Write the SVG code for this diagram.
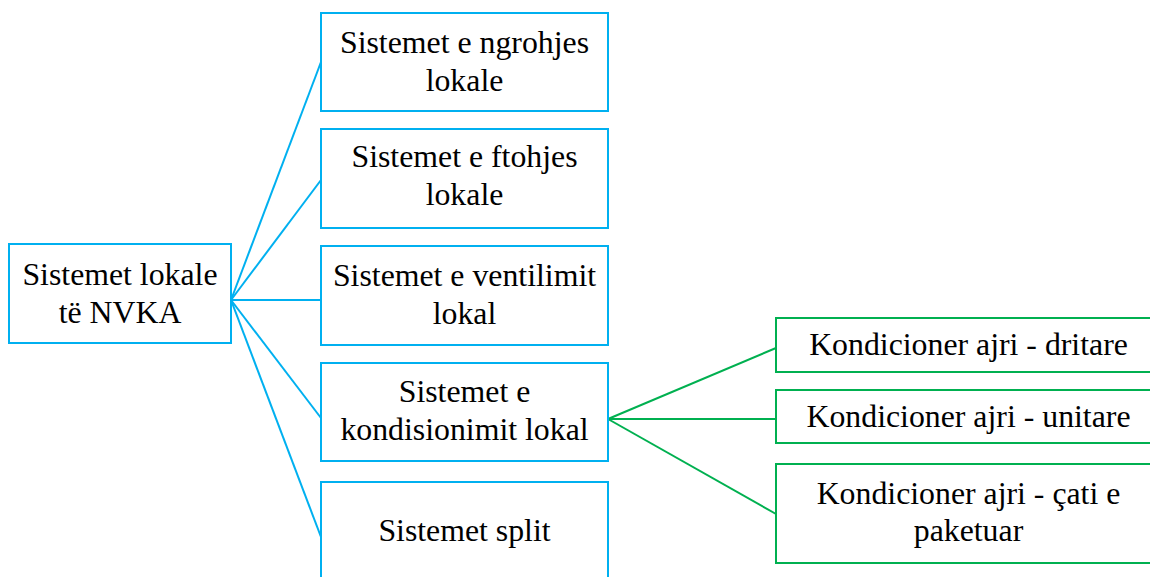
<svg xmlns="http://www.w3.org/2000/svg" width="1150" height="577" viewBox="0 0 1150 577">
<style>
.b{fill:#fff;stroke:#00B0F0;stroke-width:2}
.g{fill:#fff;stroke:#00B050;stroke-width:2}
.cb{stroke:#00B0F0;stroke-width:2;fill:none}
.cg{stroke:#00B050;stroke-width:2;fill:none}
.t{font-family:'Liberation Serif','Times New Roman',serif;font-size:31.8px;fill:#000;text-anchor:middle}
</style>
<rect width="1150" height="577" fill="#fff"/>
<g id="connectors">
<line class="cb" x1="231" y1="300" x2="321" y2="62"/>
<line class="cb" x1="231" y1="300" x2="321" y2="180"/>
<line class="cb" x1="231" y1="300" x2="321" y2="300"/>
<line class="cb" x1="231" y1="300" x2="321" y2="418"/>
<line class="cb" x1="231" y1="300" x2="321" y2="537"/>
<line class="cg" x1="608" y1="419" x2="776" y2="348"/>
<line class="cg" x1="608" y1="419" x2="776" y2="419"/>
<line class="cg" x1="608" y1="419" x2="776" y2="514"/>
</g>
<g class="t">
<g id="root"><rect class="b" x="9" y="244" width="222" height="99"/><text x="120" y="285">Sistemet lokale</text><text x="120" y="323">të NVKA</text></g>
<g id="n1"><rect class="b" x="321" y="13" width="287" height="98"/><text x="464.5" y="53">Sistemet e ngrohjes</text><text x="464.5" y="91">lokale</text></g>
<g id="n2"><rect class="b" x="321" y="129" width="287" height="99"/><text x="464.5" y="167">Sistemet e ftohjes</text><text x="464.5" y="205">lokale</text></g>
<g id="n3"><rect class="b" x="321" y="246" width="287" height="99"/><text x="464.5" y="286">Sistemet e ventilimit</text><text x="464.5" y="324">lokal</text></g>
<g id="n4"><rect class="b" x="321" y="363" width="287" height="98"/><text x="464.5" y="402">Sistemet e</text><text x="464.5" y="440">kondisionimit lokal</text></g>
<g id="n5"><rect class="b" x="321" y="482" width="287" height="99"/><text x="464.5" y="541">Sistemet split</text></g>
<g id="g1"><rect class="g" x="776" y="318" width="385" height="54"/><text x="968.5" y="355">Kondicioner ajri - dritare</text></g>
<g id="g2"><rect class="g" x="776" y="390" width="385" height="53"/><text x="968.5" y="427">Kondicioner ajri - unitare</text></g>
<g id="g3"><rect class="g" x="776" y="464" width="385" height="99"/><text x="968.5" y="504">Kondicioner ajri - çati e</text><text x="968.5" y="541">paketuar</text></g>
</g>
</svg>
